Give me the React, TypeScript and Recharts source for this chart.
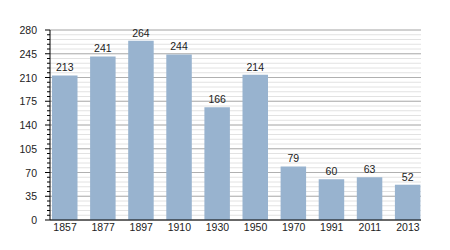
import React from "react";
import { BarChart, Bar, XAxis, YAxis, CartesianGrid, LabelList } from "recharts";

const years = ["1857", "1877", "1897", "1910", "1930", "1950", "1970", "1991", "2011", "2013"];
const population = [213, 241, 264, 244, 166, 214, 79, 60, 63, 52];
const majorTicks = [0, 35, 70, 105, 140, 175, 210, 245, 280];
const minorTicks = Array.from({ length: 41 }, (_, i) => i * 7);

const data = years.map((year, i) => ({ year, value: population[i] }));

const FONT = "'Liberation Sans', Arial, sans-serif";

// y axis tick: long mark + label on majors, short mark on minors
const YTick: React.FC<{ x?: number; y?: number; payload?: any }> = ({ x = 0, y = 0, payload }) => {
  const isMajor = payload.value % 35 === 0;
  return (
    <g>
      <line x1={isMajor ? 45 : 47} x2={50} y1={y} y2={y} stroke="#000" strokeWidth={1} />
      {isMajor && (
        <text x={37} y={y} dy="0.4em" textAnchor="end" fontSize={10.5} fontFamily={FONT} fill="#222">
          {payload.value}
        </text>
      )}
    </g>
  );
};

export default function App() {
  return (
    <div style={{ position: "absolute", left: 0, top: 0, background: "#fff" }}>
      <BarChart
        width={450}
        height={250}
        data={data}
        margin={{ top: 30, right: 29, left: 0, bottom: 0 }}
      >
        <CartesianGrid vertical={false} stroke="#e2e2e2" horizontalValues={minorTicks} />
        <CartesianGrid vertical={false} stroke="#b0b0b0" horizontalValues={majorTicks} />
        <XAxis
          dataKey="year"
          height={30}
          tickLine={false}
          tickSize={0}
          tickMargin={4}
          padding={{ left: -4, right: -6 }}
          axisLine={{ stroke: "#000" }}
          tick={{ fontSize: 10.5, fontFamily: FONT, fill: "#222" }}
          interval={0}
        />
        <YAxis
          width={50}
          domain={[0, 280]}
          ticks={minorTicks}
          interval={0}
          tickLine={false}
          axisLine={{ stroke: "#000" }}
          tick={<YTick />}
        />
        <Bar dataKey="value" fill="#98b3cf" barSize={25.5} isAnimationActive={false}>
          <LabelList
            dataKey="value"
            position="top"
            offset={4}
            style={{ fontSize: 10.5, fontFamily: FONT, fill: "#222" }}
          />
        </Bar>
      </BarChart>
    </div>
  );
}
